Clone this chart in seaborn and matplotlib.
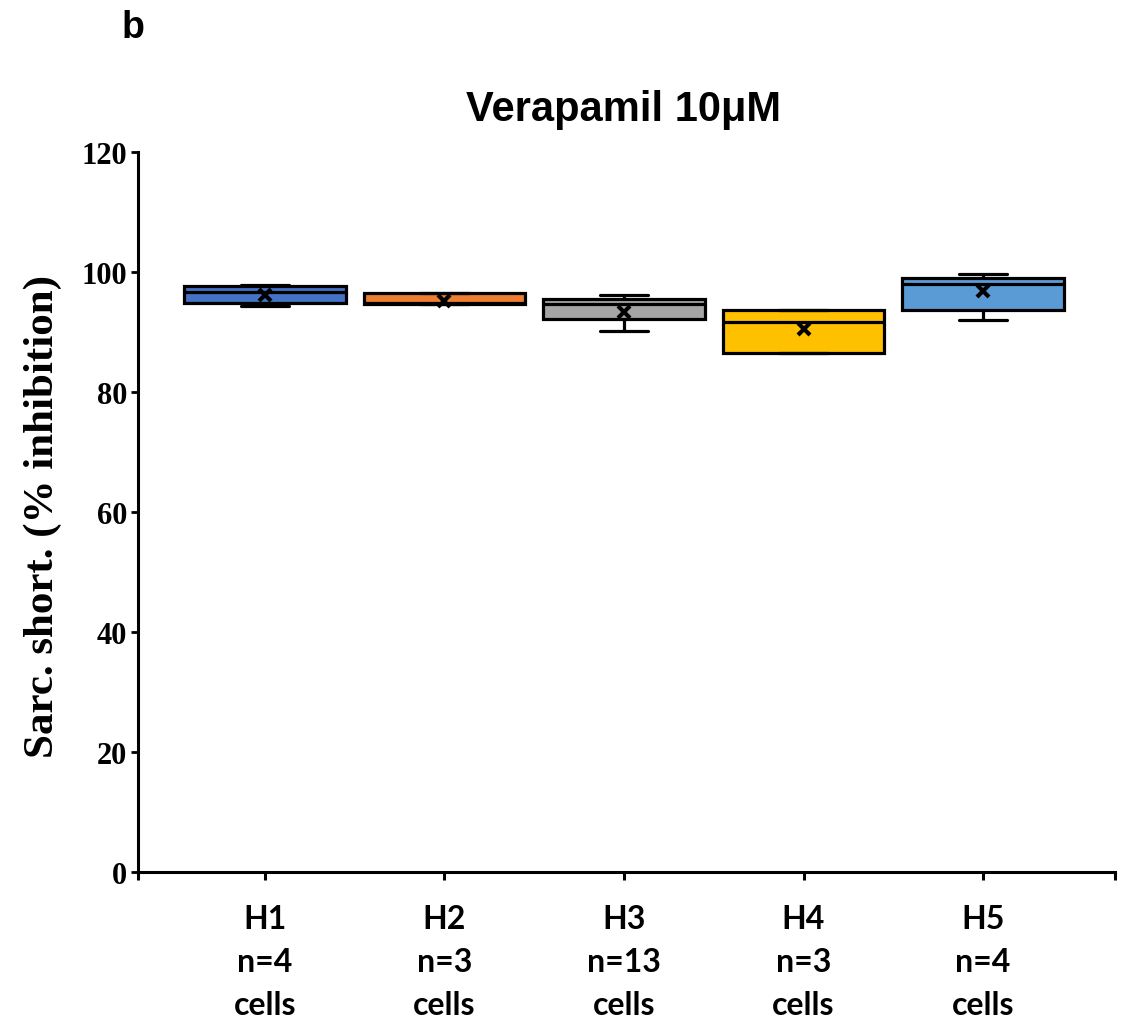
import matplotlib
matplotlib.use("Agg")
import matplotlib.pyplot as plt
import seaborn as sns
import pandas as pd

# ---- data (box statistics per group) ----
groups = ["H1", "H2", "H3", "H4", "H5"]
n_cells = [4, 3, 13, 3, 4]
whisker_lo = [94.4, 94.6, 90.25, 86.5, 92.05]
q1 = [94.8, 94.6, 92.1, 86.5, 93.6]
median = [96.6, 94.9, 94.7, 91.7, 97.95]
q3 = [97.7, 96.45, 95.5, 93.7, 99.05]
whisker_hi = [97.8, 96.45, 96.2, 93.7, 99.6]
means = [96.1, 95.25, 93.4, 90.5, 96.8]
colors = ["#4472C4", "#ED7D31", "#A5A5A5", "#FFC000", "#5B9BD5"]

labels = [f"{g}\nn={n}\ncells" for g, n in zip(groups, n_cells)]

# five values per group reproduce the five-number summary exactly
rows = []
for lab, lo, a, m, b, hi in zip(labels, whisker_lo, q1, median, q3, whisker_hi):
    for v in (lo, a, m, b, hi):
        rows.append({"group": lab, "value": v})
df = pd.DataFrame(rows)
df_mean = pd.DataFrame({"group": labels, "mean": means})

sns.set_style("ticks")
plt.rcParams["font.family"] = ["Liberation Sans", "DejaVu Sans"]
plt.rcParams["text.color"] = "black"
plt.rcParams["xtick.color"] = "black"
plt.rcParams["ytick.color"] = "black"
plt.rcParams["axes.labelcolor"] = "black"

fig = plt.figure(figsize=(11.32, 10.2), dpi=100)
ax = fig.add_axes([138 / 1132, 1 - 873 / 1020, (1115 - 138) / 1132, (873 - 153) / 1020])

sns.boxplot(data=df, x="group", y="value", hue="group", palette=colors,
            order=labels, hue_order=labels, whis=(0, 100), width=0.9,
            saturation=1, linewidth=2.3, linecolor="black", showfliers=False,
            capwidths=0.27, legend=False, ax=ax)
sns.pointplot(data=df_mean, x="group", y="mean", order=labels,
              linestyle="none", markers="x", color="black", errorbar=None,
              markersize=9, markeredgewidth=3, ax=ax)

ax.set_ylim(0, 120)
ax.set_xlim(-0.707, 4.735)
ax.set_yticks(range(0, 121, 20))
ax.set_xticks(range(len(labels)))
ax.set_xticks([-0.707, 4.735], minor=True)
ax.set_xticklabels(labels, fontfamily="Lato", fontweight="bold", fontsize=23,
                   linespacing=1.58, color="black")
for t in ax.get_yticklabels():
    t.set_fontfamily("Liberation Serif")
    t.set_fontweight("bold")
    t.set_fontsize(22)
    t.set_color("black")
ax.tick_params(axis="y", direction="out", length=5, width=2, pad=3, color="black")
ax.tick_params(axis="x", which="both", direction="out", length=6, width=2.2,
               pad=17, color="black")
ax.set_xlabel("")
ax.set_ylabel("")
for side in ("top", "right"):
    ax.spines[side].set_visible(False)
for side in ("left", "bottom"):
    ax.spines[side].set_linewidth(2.2)
    ax.spines[side].set_color("black")

fig.text(43 / 1132, 1 - 517 / 1020, "Sarc. short. (% inhibition)", rotation=90,
         ha="center", va="center", fontfamily="Liberation Serif",
         fontweight="bold", fontsize=31, color="black")
fig.text(624 / 1132, 1 - 110 / 1020, "Verapamil 10μM", ha="center", va="center",
         fontfamily="Liberation Sans", fontweight="bold", fontsize=30, color="black")
fig.text(133 / 1132, 1 - 28 / 1020, "b", ha="center", va="center",
         fontfamily="Liberation Sans", fontweight="bold", fontsize=27, color="black")

fig.savefig("out.png", dpi=100, facecolor="white")
